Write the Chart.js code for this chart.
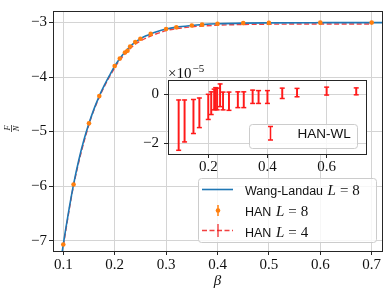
<!DOCTYPE html>
<html>
<head>
<meta charset="utf-8">
<script src="https://cdn.jsdelivr.net/npm/chart.js@4"></script>
<style>
  html, body { margin: 0; padding: 0; background: #fff; }
  #wrap { position: relative; width: 389px; height: 295px; }
  #main { position: absolute; left: 0; top: 0; }
  #inset { position: absolute; left: 130px; top: 60px; }
</style>
</head>
<body>
<div id="wrap">
  <canvas id="main" width="389" height="295"></canvas>
  <canvas id="inset" width="245" height="115"></canvas>
</div>
<script>
// Wang-Landau L=8 curve (beta, F/N)
const betaWL = [0.095, 0.1, 0.11, 0.12, 0.13, 0.14, 0.15, 0.16, 0.17, 0.18, 0.19, 0.2, 0.21, 0.22, 0.23, 0.24, 0.25, 0.26, 0.27, 0.28, 0.3, 0.32, 0.35, 0.37, 0.4, 0.45, 0.5, 0.6, 0.7, 0.72];
const fWL = [-7.40, -7.07, -6.49, -5.97, -5.53, -5.16, -4.85, -4.58, -4.35, -4.15, -3.97, -3.80, -3.66, -3.54, -3.44, -3.36, -3.30, -3.25, -3.21, -3.175, -3.12, -3.085, -3.055, -3.04, -3.025, -3.012, -3.007, -3.004, -3.003, -3.003];

// HAN points
const betaHAN = [0.1, 0.12, 0.15, 0.17, 0.2, 0.21, 0.22, 0.225, 0.23, 0.24, 0.25, 0.27, 0.3, 0.32, 0.35, 0.37, 0.4, 0.45, 0.5, 0.6, 0.7];
const fHAN8 = [-7.07, -5.97, -4.85, -4.35, -3.80, -3.66, -3.55, -3.52, -3.44, -3.36, -3.30, -3.21, -3.12, -3.09, -3.055, -3.04, -3.025, -3.012, -3.008, -3.004, -3.003];
const fHAN4 = [-7.09, -5.99, -4.87, -4.37, -3.83, -3.69, -3.58, -3.54, -3.48, -3.40, -3.34, -3.25, -3.15, -3.115, -3.08, -3.065, -3.05, -3.038, -3.032, -3.028, -3.027];

// inset: HAN - WL difference in units of 1e-5, with error bars
const diffMid = [-1.26, -1.09, -0.91, -0.76, -0.52, -0.37, -0.22, -0.18, -0.20, -0.05, -0.28, -0.29, -0.23, -0.23, -0.11, -0.12, -0.12, 0.03, 0.06, 0.12, 0.11];
const diffErr = [1.02, 0.85, 0.69, 0.60, 0.51, 0.46, 0.42, 0.44, 0.44, 0.46, 0.36, 0.37, 0.32, 0.32, 0.27, 0.26, 0.26, 0.21, 0.17, 0.16, 0.14];

const xTicksMain = [0.1, 0.2, 0.3, 0.4, 0.5, 0.6, 0.7];
const yTicksMain = [-7, -6, -5, -4, -3];
const xTicksInset = [0.2, 0.4, 0.6];
const yTicksInset = [-2, 0];

const SERIF = '"Liberation Serif", "DejaVu Serif", serif';
const SANS = '"Liberation Sans", Arial, sans-serif';
const GRID = '#d4d4d4';
const INK = '#262626';
const BLUE = '#1f77b4';
const ORANGE = '#ff7f0e';
const RED = 'rgba(240,30,30,0.85)';
const ERR = '#ff1a1a';

function fmt(v) { return String(v).replace('-', '\u2212'); }

function axis(ticks, pad, extra) {
  return Object.assign({
    type: 'linear',
    offset: false,
    afterBuildTicks: s => { s.ticks = ticks.map(v => ({ value: v })); },
    grid: { color: GRID, lineWidth: 1, offset: false, tickLength: 4, tickColor: INK, tickWidth: 1 },
    border: { display: false },
    ticks: { color: '#111', padding: pad, font: { family: SERIF, size: 15 }, callback: v => fmt(v) }
  }, extra);
}

function roundBox(ctx, x, y, w, h, r) {
  ctx.beginPath();
  ctx.moveTo(x + r, y);
  ctx.lineTo(x + w - r, y);
  ctx.arcTo(x + w, y, x + w, y + r, r);
  ctx.lineTo(x + w, y + h - r);
  ctx.arcTo(x + w, y + h, x + w - r, y + h, r);
  ctx.lineTo(x + r, y + h);
  ctx.arcTo(x, y + h, x, y + h - r, r);
  ctx.lineTo(x, y + r);
  ctx.arcTo(x, y, x + r, y, r);
  ctx.closePath();
  ctx.fillStyle = 'rgba(255,255,255,0.8)';
  ctx.fill();
  ctx.strokeStyle = '#cccccc';
  ctx.lineWidth = 1;
  ctx.stroke();
}

function frame(chart) {
  const a = chart.chartArea, ctx = chart.ctx;
  ctx.save();
  ctx.strokeStyle = INK;
  ctx.lineWidth = 1;
  ctx.strokeRect(Math.round(a.left) + 0.5, Math.round(a.top) + 0.5, Math.round(a.right - a.left), Math.round(a.bottom - a.top));
  ctx.restore();
}

// sans label followed by math "L = n"
function legendText(ctx, label, n, x, y) {
  ctx.fillStyle = '#111';
  ctx.textAlign = 'left';
  ctx.textBaseline = 'alphabetic';
  ctx.font = '12.5px ' + SANS;
  ctx.fillText(label, x, y);
  x += ctx.measureText(label).width + 4.5;
  ctx.font = 'italic 15px ' + SERIF;
  ctx.fillText('L', x, y);
  x += ctx.measureText('L').width + 4;
  ctx.font = '15px ' + SERIF;
  ctx.fillText('=', x, y);
  x += ctx.measureText('=').width + 4;
  ctx.fillText(String(n), x, y);
}

const mainDecor = {
  id: 'mainDecor',
  beforeDraw(chart) {
    const ctx = chart.ctx;
    ctx.save();
    ctx.fillStyle = '#fff';
    ctx.fillRect(0, 0, chart.width, chart.height);
    ctx.restore();
  },
  afterDraw(chart) {
    const ctx = chart.ctx;
    frame(chart);
    ctx.save();
    // y title: F over N
    ctx.translate(11.5, 128.5);
    ctx.rotate(-Math.PI / 2);
    ctx.fillStyle = '#111';
    ctx.textAlign = 'center';
    ctx.font = 'italic 8.5px ' + SERIF;
    ctx.textBaseline = 'alphabetic';
    ctx.fillText('F', 0.5, -1.2);
    ctx.fillRect(-3.5, -0.3, 7, 0.7);
    ctx.textBaseline = 'top';
    ctx.fillText('N', 0, 1.2);
    ctx.restore();

    // legend
    ctx.save();
    roundBox(ctx, 198.5, 178.5, 178, 64, 3);
    ctx.lineWidth = 1.6;
    ctx.strokeStyle = BLUE;
    ctx.beginPath(); ctx.moveTo(202, 189.5); ctx.lineTo(233, 189.5); ctx.stroke();
    legendText(ctx, 'Wang-Landau', 8, 245, 195);

    ctx.strokeStyle = ORANGE;
    ctx.lineWidth = 1.5;
    ctx.beginPath(); ctx.moveTo(218, 205); ctx.lineTo(218, 216); ctx.stroke();
    ctx.fillStyle = ORANGE;
    ctx.beginPath(); ctx.arc(218, 210.5, 2.3, 0, Math.PI * 2); ctx.fill();
    legendText(ctx, 'HAN', 8, 245, 216);

    ctx.strokeStyle = RED;
    ctx.lineWidth = 1.4;
    ctx.setLineDash([5, 2.5]);
    ctx.beginPath(); ctx.moveTo(202, 230.5); ctx.lineTo(233, 230.5); ctx.stroke();
    ctx.setLineDash([]);
    ctx.beginPath(); ctx.moveTo(218, 224); ctx.lineTo(218, 237); ctx.stroke();
    legendText(ctx, 'HAN', 4, 245, 236.5);
    ctx.restore();
  }
};

const insetDecor = {
  id: 'insetDecor',
  beforeDraw(chart) {
    const a = chart.chartArea, ctx = chart.ctx;
    ctx.save();
    ctx.fillStyle = '#fff';
    ctx.fillRect(a.left, a.top, a.right - a.left, a.bottom - a.top);
    ctx.restore();
  },
  afterDraw(chart) {
    const ctx = chart.ctx;
    frame(chart);
    ctx.save();
    // offset text
    ctx.fillStyle = '#111';
    ctx.textAlign = 'left';
    ctx.textBaseline = 'alphabetic';
    ctx.font = '15px ' + SERIF;
    ctx.fillText('\u00d710', 38, 17.5);
    const w = ctx.measureText('\u00d710').width;
    ctx.font = '11px ' + SERIF;
    ctx.fillText('\u22125', 38 + w + 1, 11.5);

    // legend
    roundBox(ctx, 119.5, 64.5, 108, 24, 3);
    ctx.strokeStyle = ERR;
    ctx.lineWidth = 1.5;
    ctx.beginPath();
    ctx.moveTo(140.5, 66.5); ctx.lineTo(140.5, 80);
    ctx.moveTo(138, 66.5); ctx.lineTo(143, 66.5);
    ctx.moveTo(138, 80); ctx.lineTo(143, 80);
    ctx.stroke();
    ctx.fillStyle = '#111';
    ctx.font = '13.5px ' + SANS;
    ctx.fillText('HAN-WL', 167.5, 77.5);
    ctx.restore();
  }
};

new Chart(document.getElementById('main'), {
  type: 'line',
  data: {
    datasets: [
      {
        label: 'HAN L=8',
        data: betaHAN.map((b, i) => ({ x: b, y: fHAN8[i] })),
        showLine: false,
        pointRadius: 2.3,
        pointBorderWidth: 0,
        pointBackgroundColor: ORANGE,
        order: 0
      },
      {
        label: 'Wang-Landau L=8',
        data: betaWL.map((b, i) => ({ x: b, y: fWL[i] })),
        borderColor: BLUE,
        borderWidth: 1.6,
        pointRadius: 0,
        cubicInterpolationMode: 'monotone',
        order: 1
      },
      {
        label: 'HAN L=4',
        data: betaHAN.map((b, i) => ({ x: b, y: fHAN4[i] })),
        borderColor: RED,
        borderWidth: 1.4,
        borderDash: [5, 2.5],
        pointRadius: 0,
        cubicInterpolationMode: 'monotone',
        order: 2
      }
    ]
  },
  options: {
    responsive: false,
    animation: false,
    events: [],
    layout: { padding: { left: 0, top: 6, right: 7, bottom: 0 } },
    plugins: { legend: { display: false }, tooltip: { enabled: false } },
    scales: {
      x: axis(xTicksMain, 1, {
        min: 0.08, max: 0.72,
        afterFit: s => { s.height = 44; },
        title: { display: true, text: '\u03b2', color: '#111', font: { family: SERIF, size: 15, style: 'italic' }, padding: { top: 0, bottom: 5 } }
      }),
      y: axis(yTicksMain, 2, {
        min: -7.19, max: -2.79,
        afterFit: s => { s.width = 53; }
      })
    }
  },
  plugins: [mainDecor]
});

const caps = [];
betaHAN.forEach((b, i) => {
  caps.push({ x: b, y: diffMid[i] - diffErr[i] });
  caps.push({ x: b, y: diffMid[i] + diffErr[i] });
});

new Chart(document.getElementById('inset'), {
  type: 'bar',
  data: {
    datasets: [
      {
        type: 'bar',
        label: 'HAN-WL',
        data: betaHAN.map((b, i) => ({ x: b, y: [diffMid[i] - diffErr[i], diffMid[i] + diffErr[i]] })),
        backgroundColor: ERR,
        borderWidth: 0,
        barThickness: 1.3,
        grouped: false
      },
      {
        type: 'line',
        label: 'caps',
        data: caps,
        showLine: false,
        pointStyle: 'line',
        pointRadius: 2.5,
        pointBorderColor: ERR,
        pointBorderWidth: 1.5
      }
    ]
  },
  options: {
    responsive: false,
    animation: false,
    events: [],
    layout: { padding: { left: 0, top: 20, right: 9, bottom: 0 } },
    plugins: { legend: { display: false }, tooltip: { enabled: false } },
    scales: {
      x: axis(xTicksInset, 0, {
        min: 0.064, max: 0.733,
        afterFit: s => { s.height = 21; }
      }),
      y: axis(yTicksInset, 5, {
        min: -2.43, max: 0.57,
        afterFit: s => { s.width = 38; }
      })
    }
  },
  plugins: [insetDecor]
});
</script>
</body>
</html>
